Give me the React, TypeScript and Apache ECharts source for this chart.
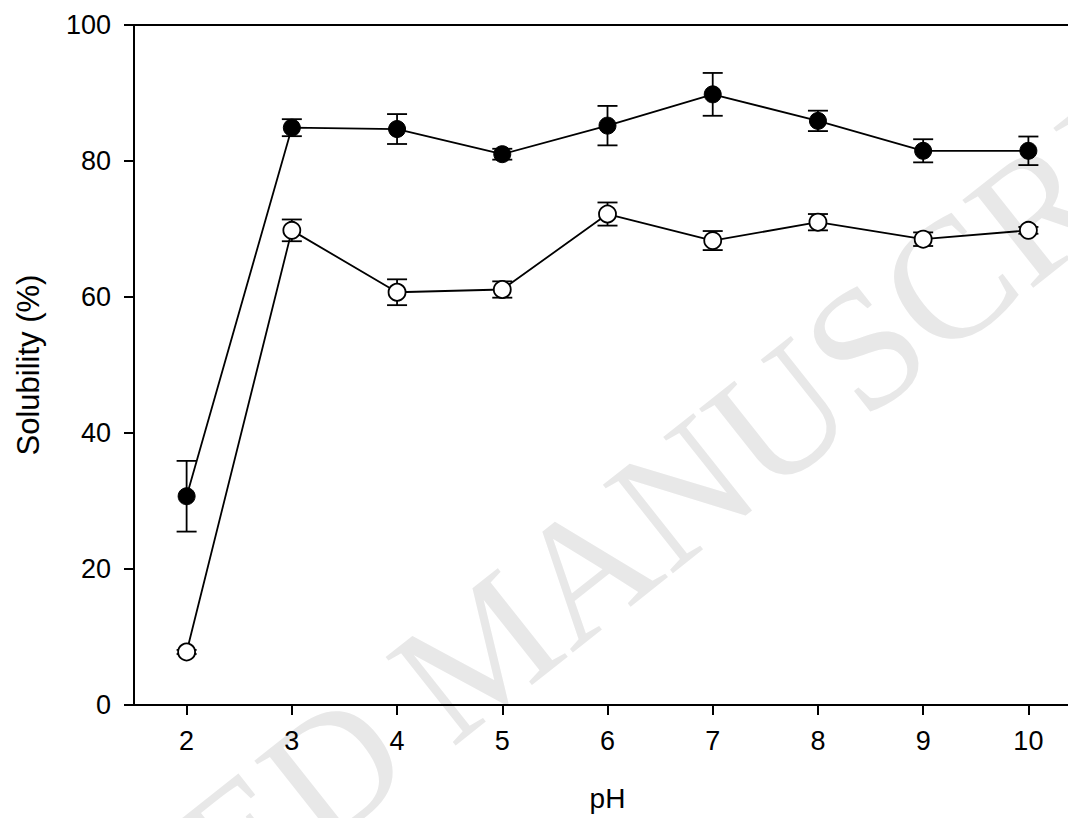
import React, { useEffect, useRef } from "react";
import * as echarts from "echarts";

const pH = [2, 3, 4, 5, 6, 7, 8, 9, 10];
const filledMean = [30.7, 84.9, 84.7, 81.0, 85.2, 89.8, 85.9, 81.5, 81.5];
const filledErr = [5.2, 1.25, 2.2, 0.8, 2.9, 3.15, 1.5, 1.7, 2.1];
const openMean = [7.8, 69.8, 60.7, 61.1, 72.2, 68.3, 71.0, 68.5, 69.8];
const openErr = [0.3, 1.6, 1.9, 1.2, 1.7, 1.4, 1.2, 1.0, 0.5];
const xTicks = [2, 3, 4, 5, 6, 7, 8, 9, 10];

const FONT = "'Liberation Sans', Arial, sans-serif";

function errorBarSeries(mean: number[], err: number[]) {
  return {
    type: "custom",
    z: 2,
    silent: true,
    encode: { x: 0, y: 1 },
    data: pH.map((x, i) => [x, mean[i], err[i]]),
    renderItem: (params: any, api: any) => {
      const x = api.value(0);
      const y = api.value(1);
      const e = api.value(2);
      const hi = api.coord([x, y + e]);
      const lo = api.coord([x, y - e]);
      const hw = 10;
      const style = { stroke: "#000", lineWidth: 1.8 };
      return {
        type: "group",
        children: [
          { type: "line", shape: { x1: hi[0], y1: hi[1], x2: lo[0], y2: lo[1] }, style },
          { type: "line", shape: { x1: hi[0] - hw, y1: hi[1], x2: hi[0] + hw, y2: hi[1] }, style },
          { type: "line", shape: { x1: lo[0] - hw, y1: lo[1], x2: lo[0] + hw, y2: lo[1] }, style },
        ],
      };
    },
  };
}

export default function App() {
  const ref = useRef<HTMLDivElement>(null);
  useEffect(() => {
    if (!ref.current) return;
    const chart = echarts.init(ref.current, undefined, { renderer: "svg" });
    chart.setOption({
      animation: false,
      backgroundColor: "#fff",
      grid: {
        left: 134,
        top: 25,
        width: 947,
        height: 680,
        show: true,
        borderColor: "#000",
        borderWidth: 2,
        backgroundColor: "transparent",
      },
      graphic: [
        {
          type: "text",
          z: -10,
          silent: true,
          x: 485,
          y: 648,
          rotation: 0.67,
          style: {
            text: "ACCEPTED MANUSCRIPT",
            font: "172px 'Liberation Serif', 'Times New Roman', serif",
            fill: "#e8e8e8",
            align: "center",
            verticalAlign: "middle",
          },
        },
      ],
      xAxis: {
        type: "value",
        min: 1.5,
        max: 10.5,
        name: "pH",
        nameLocation: "middle",
        nameGap: 79,
        nameTextStyle: { color: "#000", fontSize: 28, fontFamily: FONT },
        splitLine: { show: false },
        axisLine: { show: true, lineStyle: { color: "#000", width: 2 } },
        axisTick: {
          show: true,
          inside: false,
          length: 10,
          customValues: xTicks,
          lineStyle: { color: "#000", width: 2 },
        },
        axisLabel: {
          customValues: xTicks,
          margin: 22,
          color: "#000",
          fontSize: 27,
          fontFamily: FONT,
        },
      },
      yAxis: {
        type: "value",
        min: 0,
        max: 100,
        interval: 20,
        name: "Solubility (%)",
        nameLocation: "middle",
        nameGap: 90,
        nameTextStyle: { color: "#000", fontSize: 31, fontFamily: FONT },
        splitLine: { show: false },
        axisLine: { show: true, lineStyle: { color: "#000", width: 2 } },
        axisTick: { show: true, inside: false, length: 10, lineStyle: { color: "#000", width: 2 } },
        axisLabel: { margin: 23, color: "#000", fontSize: 27, fontFamily: FONT },
      },
      series: [
        errorBarSeries(filledMean, filledErr),
        errorBarSeries(openMean, openErr),
        {
          type: "line",
          z: 3,
          data: pH.map((x, i) => [x, filledMean[i]]),
          symbol: "circle",
          symbolSize: 17,
          lineStyle: { color: "#000", width: 1.8 },
          itemStyle: { color: "#000", borderColor: "#000", borderWidth: 1 },
        },
        {
          type: "line",
          z: 3,
          data: pH.map((x, i) => [x, openMean[i]]),
          symbol: "circle",
          symbolSize: 17,
          lineStyle: { color: "#000", width: 1.8 },
          itemStyle: { color: "#fff", borderColor: "#000", borderWidth: 1.8 },
        },
      ],
    });
    return () => chart.dispose();
  }, []);
  return (
    <div
      style={{
        position: "absolute",
        left: 0,
        top: 0,
        width: 1068,
        height: 818,
        overflow: "hidden",
        background: "#fff",
      }}
    >
      <div ref={ref} style={{ width: 1081, height: 818 }} />
    </div>
  );
}
